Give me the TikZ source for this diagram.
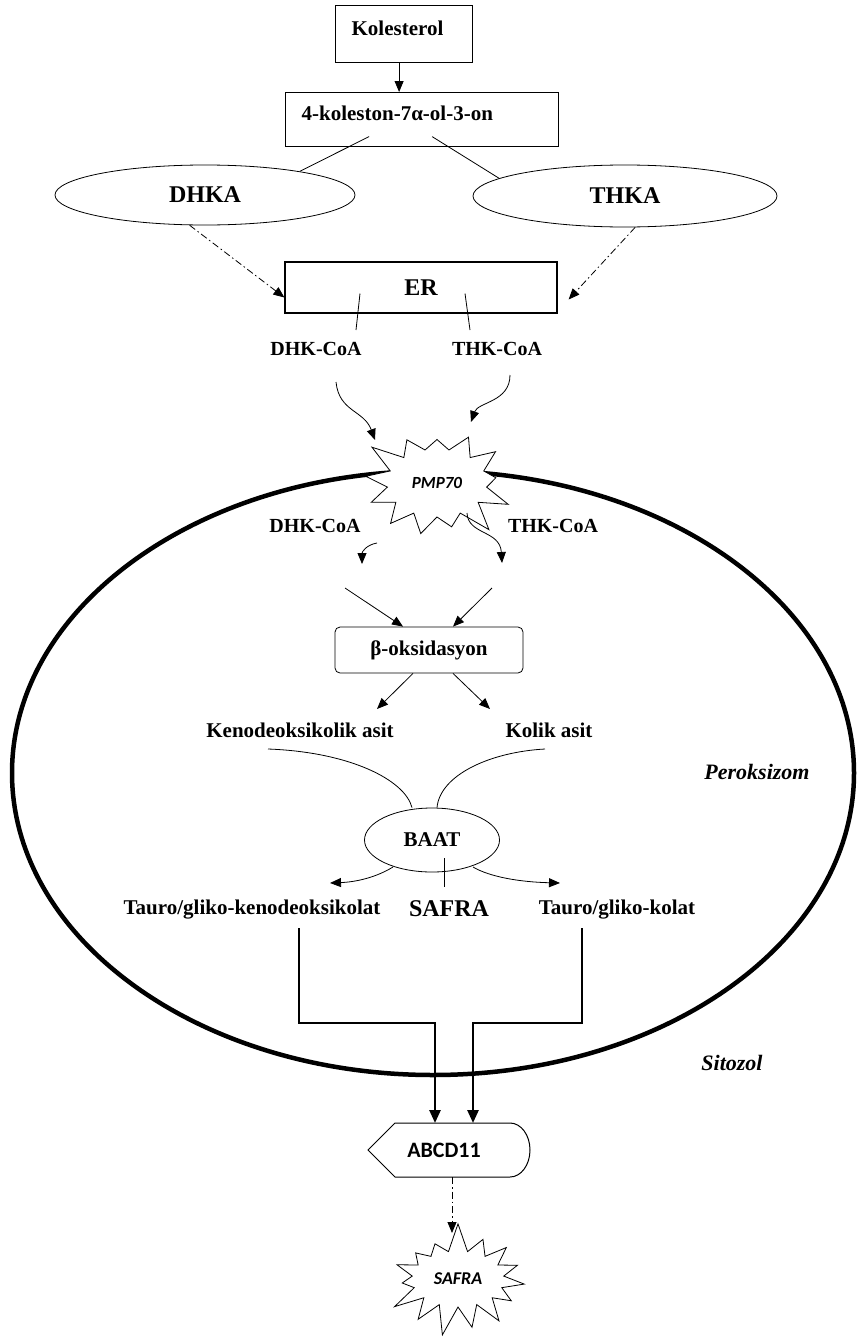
\documentclass[tikz,border=0pt]{standalone}
\usepackage{fontspec}
\setmainfont{Liberation Serif}
\newfontfamily\calibri{Carlito}
\usetikzlibrary{shapes.geometric,shapes.symbols,arrows.meta}

\begin{document}
\begin{tikzpicture}[x=1pt, y=-1pt, line width=0.8pt,
    font=\fontsize{21}{25}\selectfont\bfseries,
    tip/.style={-{Triangle[length=11pt,width=9pt]}},
    dashdot/.style={tip, dash pattern=on 7pt off 3pt on 1.5pt off 3pt},
    heavy/.style={-{Triangle[length=13pt,width=11pt]}, line width=2.6pt},
    txtbox/.style={draw, line width=1.2pt, align=left, anchor=north west, inner xsep=16pt, inner ysep=14pt, text height=14pt, text depth=12pt},
    oval/.style={draw, ellipse, inner sep=0pt},
    big/.style={font=\fontsize{24}{28}\selectfont\bfseries},
    small/.style={font=\fontsize{20}{24}\selectfont\bfseries},
    burst/.style={draw, fill=white, starburst, starburst points=13, starburst point height=30pt, inner sep=0pt, font=\calibri\bfseries\itshape\fontsize{17}{20}\selectfont}]
  \useasboundingbox (0,0) rectangle (860,1338);

  % membrane of the peroxisome
  \draw[line width=4.5pt] (433,773) ellipse [x radius=421pt, y radius=302pt];
  \node[font=\fontsize{22}{26}\selectfont\bfseries\itshape] (perox) at (757,772) {Peroksizom};
  \node[font=\fontsize{22}{26}\selectfont\bfseries\itshape] (sitozol) at (732,1063) {Sitozol};

  % ER side
  \node[txtbox, text width=105pt, minimum height=57pt] (kolesterol) at (335,5) {Kolesterol};
  \node[txtbox, text width=241pt] (koleston) at (285,92) {4-koleston-7α-ol-3-on};
  \node[oval, big, minimum width=300pt, minimum height=60pt] (dhka) at (205,195) {DHKA};
  \node[oval, big, minimum width=304pt, minimum height=62pt] (thka) at (625,196) {THKA};
  \node[draw, big, line width=1.2pt, minimum width=272pt, minimum height=51pt] (er) at (421,287.5) {ER};
  \foreach \nm/\x/\y/\t in {dhkcoa/316/349/DHK, thkcoa/497/349/THK, dhkin/315/526/DHK, thkin/553/526/THK}
    \node[small] (\nm) at (\x,\y) {\t-CoA};

  \draw[tip] ([shift={(-5,0)}]kolesterol.south) -- ([shift={(-23,0)}]koleston.north);
  \draw ([shift={(-53,17)}]koleston.center) -- (dhka.14);
  \draw ([shift={(10,17)}]koleston.center) -- (thka.172);
  \draw[dashdot] (dhka.243) -- ([shift={(0,10)}]er.west);
  \draw[dashdot] (thka.288) -- ([shift={(11,12)}]er.east);
  \draw ([shift={(-61,6)}]er.center) -- ([shift={(40,-19)}]dhkcoa.center);
  \draw ([shift={(44,6)}]er.center) -- ([shift={(-27,-19)}]thkcoa.center);

  % transporter in the membrane
  \node[burst, minimum width=160pt, minimum height=128pt, random starburst=3] (pmp) at (437,483) {PMP70};
  \draw[tip] ([shift={(20,33)}]dhkcoa.center) .. controls (339,412) and (364,410) .. ([shift={(-62,-43)}]pmp.center);
  \draw[tip] ([shift={(13,26)}]thkcoa.center) .. controls (510,402) and (478,402) .. ([shift={(34,-61)}]pmp.center);
  \draw[tip] ([shift={(62,17)}]dhkin.center) .. controls (366,545) and (362,552) .. ([shift={(47,38)}]dhkin.center);
  \draw[tip] ([shift={(30,30)}]pmp.center) .. controls (468,535) and (500,530) .. ([shift={(-51,37)}]thkin.center);

  % beta oxidation
  \node[draw, rounded corners=5pt, minimum width=188pt, minimum height=46pt] (box) at (429,650) {β-oksidasyon};
  \draw[tip] ([shift={(-84,-62)}]box.center) -- ([shift={(-26,0)}]box.north);
  \draw[tip] ([shift={(63,-62)}]box.center) -- ([shift={(24,0)}]box.north);
  \node (keno) at (300,730) {Kenodeoksikolik asit};
  \node (kolik) at (549,730) {Kolik asit};
  \draw[tip] ([shift={(-16,0)}]box.south) -- ([shift={(77,-21)}]keno.center);
  \draw[tip] ([shift={(24,0)}]box.south) -- ([shift={(-59,-21)}]kolik.center);

  % conjugation
  \node[oval, minimum width=135pt, minimum height=64pt] (baat) at (432,840) {BAAT};
  \draw ([shift={(-32,19)}]keno.center) .. controls (350,752) and (405,780) .. ([shift={(-20,0)}]baat.north);
  \draw ([shift={(-4,19)}]kolik.center) .. controls (490,752) and (440,775) .. ([shift={(5,0)}]baat.north);
  \node (tgk) at (252,910) {Tauro/gliko-kenodeoksikolat};
  \node[big] (safra) at (449,909) {SAFRA};
  \node (tgkol) at (617,910) {Tauro/gliko-kolat};
  \draw ([shift={(12,18)}]baat.center) -- ([shift={(-5,-22)}]safra.center);
  \draw[tip] ([shift={(-39,27)}]baat.center) .. controls (375,878) and (355,882) .. ([shift={(78,-27)}]tgk.center);
  \draw[tip] ([shift={(41,27)}]baat.center) .. controls (490,877) and (520,882) .. ([shift={(-57,-27)}]tgkol.center);

  % export to the cytosol
  \node[font=\calibri\bfseries\fontsize{22}{26}\selectfont] (abcd) at (444,1150) {ABCD11};
  \draw[line width=1pt] (368,1150) -- (395,1123) -- (510,1123) arc[start angle=90, end angle=-90, x radius=20pt, y radius=27pt] -- (395,1177) -- cycle;
  \draw[heavy] ([shift={(47,18)}]tgk.center) -- ++(0,95) -| ([shift={(-9,-27)}]abcd.center);
  \draw[heavy] ([shift={(-35,18)}]tgkol.center) -- ++(0,95) -| ([shift={(29,-27)}]abcd.center);
  \node[burst, minimum width=152pt, minimum height=116pt, starburst points=15, random starburst=7, font=\calibri\bfseries\itshape\fontsize{18}{21}\selectfont] (safraout) at (458,1279) {SAFRA};
  \draw[dashdot] ([shift={(8,27)}]abcd.center) -- ([shift={(-6,-46)}]safraout.center);
\end{tikzpicture}
\end{document}
